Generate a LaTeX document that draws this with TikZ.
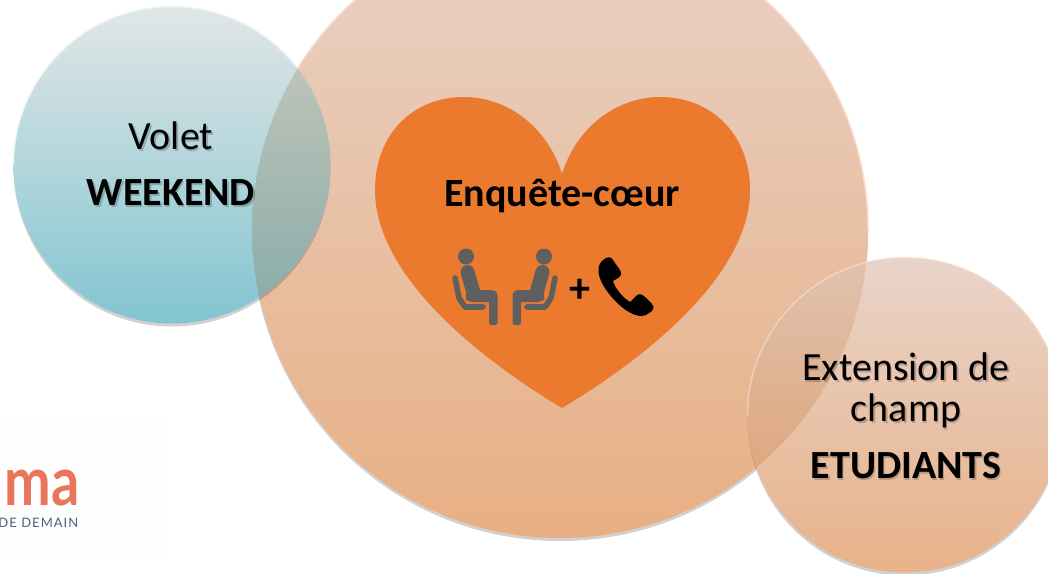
\documentclass[tikz,border=0pt]{standalone}
\usepackage{fontspec}
\setmainfont{Carlito}
\newfontfamily\logofont{Lato}
\newfontfamily\logotag[LetterSpace=8]{Lato}
\definecolor{heartc}{HTML}{EB7A2E}
\definecolor{icong}{HTML}{5F5F5F}
\definecolor{logoc}{HTML}{E9755A}
\definecolor{logob}{HTML}{4F6180}
\definecolor{bigt}{HTML}{E8D2C6}
\definecolor{bigb}{HTML}{E8AF83}
\definecolor{bigrim}{HTML}{F9DAC6}
\definecolor{leftt}{HTML}{E2E6E6}
\definecolor{leftb}{HTML}{82C5D1}
\definecolor{leftrim}{HTML}{EAF6F8}
\definecolor{ovlt}{HTML}{CBC9BC}
\definecolor{ovlb}{HTML}{86ABA9}
\definecolor{rightt}{HTML}{E9D4CA}
\definecolor{rightb}{HTML}{E8B289}
\definecolor{rightrim}{HTML}{FBDFD0}
\definecolor{ovrt}{HTML}{E0C3AF}
\definecolor{ovrb}{HTML}{DE9A68}
\tikzset{
  x=1pt,y=-1pt,
  rimshadow/.style={fill=black,fill opacity=.18,draw=none},
  lab/.style={align=center,inner sep=0,text=black,font=\fontsize{40}{40}\selectfont},
  labb/.style={lab,font=\fontsize{40}{40}\selectfont\bfseries},
  shad/.style={opacity=.2},
  chairline/.style={draw=icong,line width=5.6pt,line cap=round,line join=round},
  torso/.style={draw=icong,line width=14pt,line cap=round},
}
\begin{document}
\begin{tikzpicture}
\useasboundingbox (0,0) rectangle (1048,573);
\clip (0,0) rectangle (1048,573);
\fill[white] (0,0) rectangle (1048,573);
% faint logo background
\fill[black!.5] (0,420) rectangle (165,560);
\node[anchor=base east,inner sep=0,text=logoc,xscale=.82,transform shape,font=\logofont\fontsize{68}{68}\selectfont\bfseries] (logoma) at (80,505.5) {ma};
\node[anchor=base east,inner sep=0,text=logob,font=\logotag\fontsize{13}{13}\selectfont] (logotext) at (78.5,527.5) {DE DEMAIN};
% big circle
\fill[rimshadow] (560,233) circle[radius=308pt];
\shade[top color=bigt,bottom color=bigb] (560,230) circle[radius=308pt];
\draw[draw=bigrim,line width=1.5pt] (252,230) arc[start angle=180,end angle=0,radius=308pt];
% left circle
\fill[rimshadow] (172,168) circle[radius=158.5pt];
\shade[top color=leftt,bottom color=leftb] (172,165) circle[radius=158.5pt];
\begin{scope}
  \clip (560,230) circle[radius=308pt];
  \shade[top color=ovlt,bottom color=ovlb] (172,165) circle[radius=158.5pt];
\end{scope}
\draw[draw=leftrim,line width=1.2pt] (13.5,165) arc[start angle=180,end angle=38,radius=158.5pt];
% right circle
\fill[rimshadow] (905,418) circle[radius=157.5pt];
\shade[top color=rightt,bottom color=rightb] (905,415) circle[radius=157.5pt];
\begin{scope}
  \clip (560,230) circle[radius=308pt];
  \shade[top color=ovrt,bottom color=ovrb] (905,415) circle[radius=157.5pt];
\end{scope}
\draw[draw=rightrim,line width=1.5pt,draw opacity=.6] (747.5,415) arc[start angle=180,end angle=0,radius=157.5pt];
% heart
\fill[heartc] (562,174) .. controls (548,128) and (508,97) .. (464,97)
  .. controls (412,97) and (375,135) .. (375,190)
  .. controls (375,280) and (490,365) .. (562,408)
  .. controls (634,365) and (750,280) .. (750,190)
  .. controls (750,135) and (712,97) .. (660,97)
  .. controls (616,97) and (576,128) .. (562,174) -- cycle;
% text shadows
\node[lab,shad] (voletS) at (172.5,137.5) {Volet};
\node[labb,shad] (weekendS) at (172.5,194.5) {WEEKEND};
\node[lab,shad] (extS) at (907.5,368.5) {Extension de};
\node[lab,shad] (champS) at (907.5,412.5) {champ};
\node[labb,shad] (etudS) at (907.5,467.5) {ETUDIANTS};
% text
\node[lab] (volet) at (171,136) {Volet};
\node[labb] (weekend) at (171,193) {WEEKEND};
\node[lab] (ext) at (906,367) {Extension de};
\node[lab] (champ) at (906,411) {champ};
\node[labb] (etud) at (906,466) {ETUDIANTS};
\node[labb] (enq) at (562,196) {Enquête-cœur};
\node[inner sep=0,font=\fontsize{42}{42}\selectfont\bfseries] (plus) at (580,291) {+};
% seated figures
\foreach \m/\s in {0/1,1010/-1}{
\begin{scope}[xshift=\m pt,xscale=\s]
  \fill[icong] (466,256.5) circle[radius=8pt];
  \draw[torso] (467.5,272) -- (473,291);
  \fill[icong] (466,268) -- (470,266) -- (474,270) -- (478,290) -- (490,290)
     .. controls (495,290) and (497.5,292) .. (497.5,296) -- (497.5,323)
     .. controls (497.5,326) and (489,326) .. (489,323) -- (489,302) -- (472,302)
     -- (466,300) -- cycle;
  \draw[chairline] (455,278) -- (459,298) -- (465,307) -- (483,307);
\end{scope}}
% telephone
\fill[black] (606,258) .. controls (610,256) and (612,258) .. (615,263)
  -- (620,270) .. controls (622,274) and (621,276) .. (618,278)
  -- (613,281) .. controls (615,288) and (622,297) .. (630,302)
  -- (636,296) .. controls (639,293) and (642,294) .. (645,297)
  -- (652,304) .. controls (654,307) and (654,309) .. (652,311)
  -- (646,315) .. controls (635,320) and (615,305) .. (603,285)
  .. controls (596,272) and (597,263) .. (606,258) -- cycle;
\end{tikzpicture}
\end{document}
